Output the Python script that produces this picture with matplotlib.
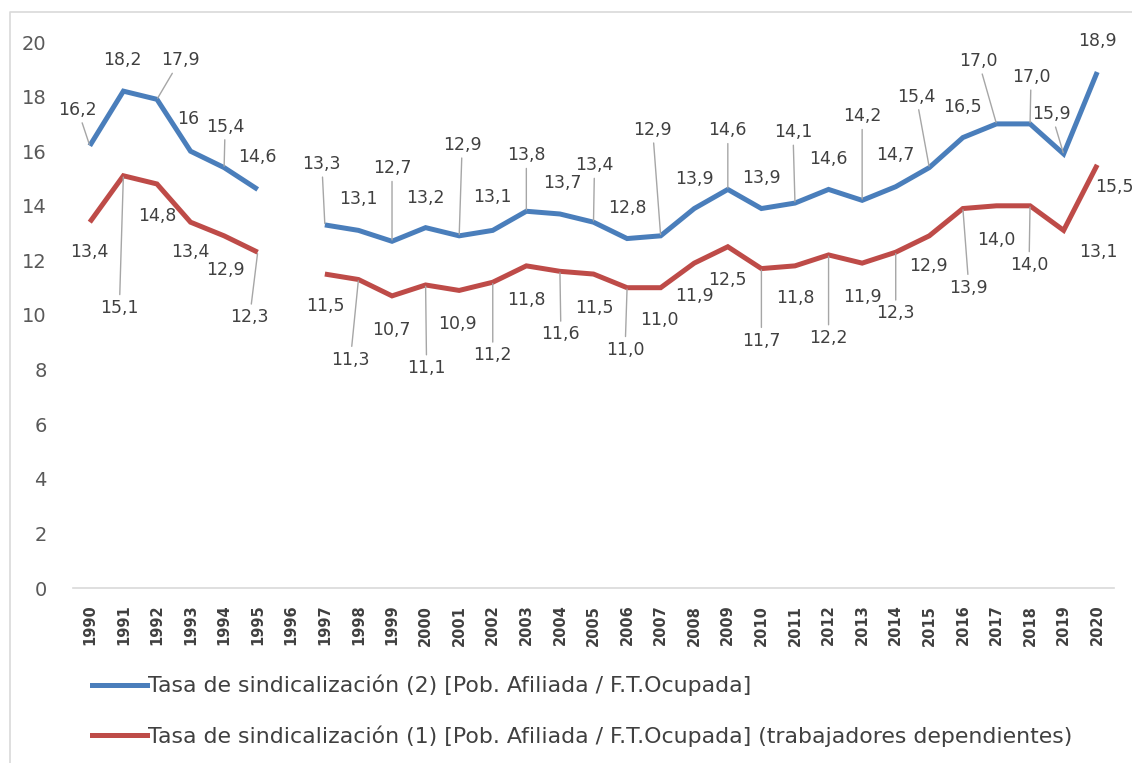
import numpy as np
import matplotlib
matplotlib.use("Agg")
import matplotlib.pyplot as plt
from matplotlib.lines import Line2D

# ---------------- data ----------------
years = [str(y) for y in range(1990, 2021)]
tasa2 = [16.2, 18.2, 17.9, 16.0, 15.4, 14.6, np.nan, 13.3, 13.1, 12.7, 13.2, 12.9, 13.1,
         13.8, 13.7, 13.4, 12.8, 12.9, 13.9, 14.6, 13.9, 14.1, 14.6, 14.2, 14.7, 15.4,
         16.5, 17.0, 17.0, 15.9, 18.9]
tasa1 = [13.4, 15.1, 14.8, 13.4, 12.9, 12.3, np.nan, 11.5, 11.3, 10.7, 11.1, 10.9, 11.2,
         11.8, 11.6, 11.5, 11.0, 11.0, 11.9, 12.5, 11.7, 11.8, 12.2, 11.9, 12.3, 12.9,
         13.9, 14.0, 14.0, 13.1, 15.5]
labels2 = ["16,2", "18,2", "17,9", "16", "15,4", "14,6", "", "13,3", "13,1", "12,7", "13,2",
           "12,9", "13,1", "13,8", "13,7", "13,4", "12,8", "12,9", "13,9", "14,6", "13,9",
           "14,1", "14,6", "14,2", "14,7", "15,4", "16,5", "17,0", "17,0", "15,9", "18,9"]
labels1 = ["13,4", "15,1", "14,8", "13,4", "12,9", "12,3", "", "11,5", "11,3", "10,7", "11,1",
           "10,9", "11,2", "11,8", "11,6", "11,5", "11,0", "11,0", "11,9", "12,5", "11,7",
           "11,8", "12,2", "11,9", "12,3", "12,9", "13,9", "14,0", "14,0", "13,1", "15,5"]
name2 = "Tasa de sindicalización (2) [Pob. Afiliada / F.T.Ocupada]"
name1 = "Tasa de sindicalización (1) [Pob. Afiliada / F.T.Ocupada] (trabajadores dependientes)"

# ---------------- label layout (pixel offsets: dx right, dy down, leader flag) ----------------
off2 = [(-12, -36, 1), (-1, -31, 0), (23, -39, 1), (-2, -32, 0), (1, -41, 1), (0, -32, 0), None,
        (-3, -61, 1), (0, -31, 0), (0, -73, 1), (0, -30, 0), (3, -91, 1), (0, -33, 0),
        (0, -56, 1), (2, -31, 0), (1, -57, 1), (0, -31, 0), (-8, -106, 1), (0, -30, 0),
        (0, -59, 1), (0, -31, 0), (-2, -71, 1), (0, -30, 0), (0, -84, 1), (0, -32, 0),
        (-13, -71, 1), (0, -31, 0), (-18, -63, 1), (1, -47, 1), (-12, -40, 1), (0, -31, 0)]
off1 = [(0, 30, 0), (-4, 132, 1), (0, 32, 0), (0, 30, 0), (1, 34, 0), (-8, 65, 1), None,
        (1, 32, 0), (-8, 80, 1), (-1, 34, 0), (1, 83, 1), (-2, 34, 0), (0, 73, 1),
        (0, 34, 0), (1, 63, 1), (1, 34, 0), (-2, 62, 1), (-1, 32, 0), (0, 33, 0),
        (0, 33, 0), (0, 72, 1), (0, 32, 0), (0, 83, 1), (0, 34, 0), (0, 61, 1),
        (-1, 30, 0), (6, 79, 1), (0, 34, 0), (-1, 59, 1), (35, 22, 0), (17, 22, 0)]

BLUE = "#4A7EBB"
RED = "#BE4B48"
TXT = "#404040"

W, H = 1132, 763
fig = plt.figure(figsize=(W / 100, H / 100), dpi=100)
ax = fig.add_axes([73 / W, 1 - 588 / H, (1114 - 73) / W, (588 - 42) / H])

x = np.arange(len(years))
ax.plot(x, tasa2, color=BLUE, lw=3.6, solid_joinstyle="miter", solid_capstyle="butt", zorder=3)
ax.plot(x, tasa1, color=RED, lw=3.6, solid_joinstyle="miter", solid_capstyle="butt", zorder=3)

ax.set_xlim(-0.5, len(years) - 0.5)
ax.set_ylim(0, 20)
ax.set_yticks(range(0, 21, 2))
ax.set_xticks(x)
ax.set_xticklabels(years, rotation=90, fontsize=10.5, fontweight="bold", color=TXT)
ax.tick_params(axis="x", length=0, pad=12)
ax.tick_params(axis="y", length=0, labelsize=14, labelcolor="#595959", pad=19)
for s in ["top", "right", "left"]:
    ax.spines[s].set_visible(False)
ax.spines["bottom"].set_color("#D9D9D9")
ax.spines["bottom"].set_linewidth(1.2)


def put_labels(vals, labs, offs):
    for i, (v, lab, o) in enumerate(zip(vals, labs, offs)):
        if o is None or np.isnan(v):
            continue
        dx, dy, leader = o
        ap = None
        if leader:
            ap = dict(arrowstyle="-", color="#A6A6A6", lw=1.0, shrinkA=1, shrinkB=1)
        ax.annotate(lab, xy=(i, v), xytext=(dx, -dy), textcoords="offset pixels",
                    ha="center", va="center", fontsize=12.5, color=TXT,
                    arrowprops=ap, annotation_clip=False, zorder=4)


put_labels(tasa2, labels2, off2)
put_labels(tasa1, labels1, off1)

handles = [Line2D([], [], color=BLUE, lw=3.6), Line2D([], [], color=RED, lw=3.6)]
fig.legend(handles, [name2, name1], loc="upper left", bbox_to_anchor=(92 / W, 1 - 675 / H),
           frameon=False, fontsize=15.8, handlelength=2.5, handletextpad=0.05,
           labelspacing=1.3, labelcolor=TXT, borderaxespad=0, borderpad=0)

# chart border (top and left edges visible)
fig.add_artist(Line2D([10 / W, 10 / W, 1.0], [0, 1 - 12 / H, 1 - 12 / H],
                      transform=fig.transFigure, color="#D9D9D9", lw=1.2))

fig.savefig("out.png", dpi=100)
